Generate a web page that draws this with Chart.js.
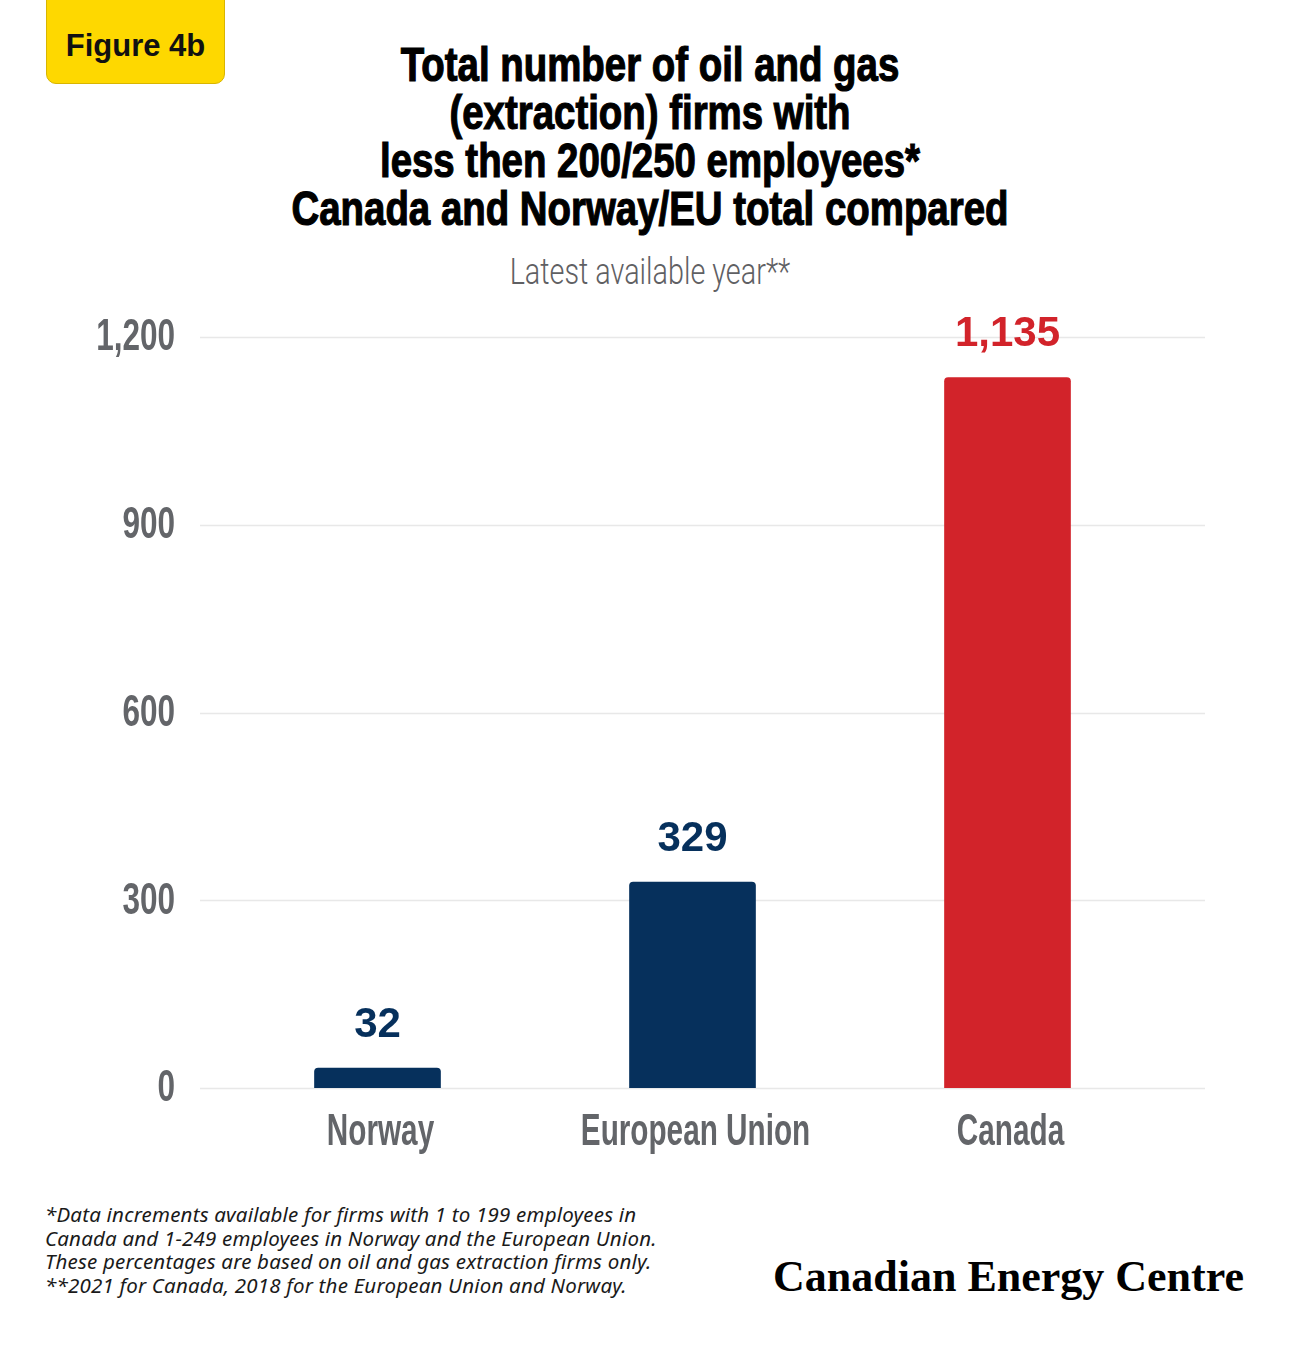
<!DOCTYPE html>
<html>
<head>
<meta charset="utf-8">
<script src="https://cdn.jsdelivr.net/npm/chart.js@4"></script>
<style>
  html, body { margin: 0; padding: 0; background: #fff; }
  #page { position: relative; width: 1300px; height: 1350px; overflow: hidden; }
  #badge {
    position: absolute; left: 46px; top: -10px; width: 179px; height: 94px;
    background: #fed800; border: 1px solid #d9b500; border-radius: 0 0 10px 10px;
    box-sizing: border-box;
  }
  #badge span {
    position: absolute; left: 0; right: 0; top: 37px; text-align: center;
    font: bold 31px "Liberation Sans", Arial, sans-serif; color: #111;
  }
  .cond { display: block; transform-origin: 50% 50%; white-space: nowrap; }
  #title {
    position: absolute; left: 0; width: 1300px; top: 41px; text-align: center;
    font: bold 48px/48px "Liberation Sans", Arial, sans-serif; color: #000;
    -webkit-text-stroke: 1.2px #000;
  }
  #title .cond { transform: scaleX(0.8); }
  #subtitle {
    position: absolute; left: 0; width: 1300px; top: 252px; text-align: center;
    font: 300 36px/40px Roboto, sans-serif; color: #5f6063;
  }
  #subtitle .cond { transform: scaleX(0.8); }
  #chartBox { position: absolute; left: 0; top: 300px; width: 1300px; height: 900px; }
  #notes {
    position: absolute; left: 45px; top: 1203px;
    font: italic 20.5px/23.6px "Noto Sans", sans-serif; color: #1a1a1a;
    letter-spacing: 0.2px;
  }
  #logo {
    position: absolute; left: 773px; top: 1251px;
    font: bold 44px "Liberation Serif", serif; color: #000; white-space: nowrap;
  }
</style>
</head>
<body>
<div id="page">
  <div id="badge"><span>Figure 4b</span></div>
  <div id="title">
    <span class="cond">Total number of oil and gas</span>
    <span class="cond">(extraction) firms with</span>
    <span class="cond">less then 200/250 employees*</span>
    <span class="cond">Canada and Norway/EU total compared</span>
  </div>
  <div id="subtitle"><span class="cond">Latest available year**</span></div>
  <div id="chartBox"><canvas id="chart"></canvas></div>
  <div id="notes">
    *Data increments available for firms with 1 to 199 employees in<br>
    Canada and 1-249 employees in Norway and the European Union.<br>
    These percentages are based on oil and gas extraction firms only.<br>
    **2021 for Canada, 2018 for the European Union and Norway.
  </div>
  <div id="logo">Canadian Energy Centre</div>
</div>
<script>
// datos del gráfico
const categories = ["Norway", "European Union", "Canada"];
const firmCounts = [32, 329, 1135];
const yTicks = [0, 300, 600, 900, 1200];

// estilos
const NAVY = "#06305c";
const RED = "#d2232a";
const GREY = "#636569";
const barColors = [NAVY, NAVY, RED];
const axisFont = "bold 45px 'Liberation Sans', Arial, sans-serif";
// no hay fuente condensada instalada: se comprime el texto a mano
const SQUEEZE_Y = 0.7;
const SQUEEZE_X = 0.66;

function squeezedText(ctx, text, x, y, align, squeeze) {
  ctx.save();
  ctx.translate(x, y);
  ctx.scale(squeeze, 1);
  ctx.textAlign = align;
  ctx.fillText(text, 0, 0);
  ctx.restore();
}

// líneas de la cuadrícula algo más anchas que el área de las barras
const gridPlugin = {
  id: "wideGrid",
  beforeDatasetsDraw(chart) {
    const { ctx, scales: { y } } = chart;
    ctx.save();
    ctx.strokeStyle = "#e8e8e8";
    ctx.lineWidth = 1.5;
    y.ticks.forEach(t => {
      const py = Math.round(y.getPixelForValue(t.value)) + 0.5;
      ctx.beginPath();
      ctx.moveTo(200, py);
      ctx.lineTo(1205, py);
      ctx.stroke();
    });
    ctx.restore();
  }
};

// etiquetas de los ejes, colocadas con las escalas de Chart.js
const axisLabels = {
  id: "axisLabels",
  afterDraw(chart) {
    const { ctx, chartArea, scales: { x, y } } = chart;
    ctx.save();
    ctx.fillStyle = GREY;
    ctx.font = axisFont;
    ctx.textBaseline = "middle";
    y.ticks.forEach(t => {
      squeezedText(ctx, t.value.toLocaleString("en-US"), chartArea.left - 45,
        y.getPixelForValue(t.value) + 1, "right", SQUEEZE_Y);
    });
    categories.forEach((c, i) => {
      squeezedText(ctx, c, x.getPixelForTick(i) + 3, chartArea.bottom + 45, "center", SQUEEZE_X);
    });
    ctx.restore();
  }
};

// etiquetas de valor encima de cada barra
const valueLabels = {
  id: "valueLabels",
  afterDatasetsDraw(chart) {
    const { ctx } = chart;
    const meta = chart.getDatasetMeta(0);
    ctx.save();
    ctx.font = "bold 42px 'Liberation Sans', Arial, sans-serif";
    ctx.textAlign = "center";
    ctx.textBaseline = "bottom";
    meta.data.forEach((bar, i) => {
      ctx.fillStyle = barColors[i];
      ctx.fillText(firmCounts[i].toLocaleString("en-US"), bar.x, bar.y - 22);
    });
    ctx.restore();
  }
};

new Chart(document.getElementById("chart"), {
  type: "bar",
  data: {
    labels: categories,
    datasets: [{
      data: firmCounts,
      backgroundColor: barColors,
      borderRadius: { topLeft: 4, topRight: 4 },
      borderSkipped: "bottom",
      barThickness: 126
    }]
  },
  options: {
    responsive: true,
    maintainAspectRatio: false,
    animation: false,
    layout: { padding: { top: 37, right: 135, bottom: 0, left: 0 } },
    plugins: { legend: { display: false }, tooltip: { enabled: false } },
    scales: {
      x: {
        grid: { display: false, drawTicks: false },
        border: { display: false },
        ticks: { display: false },
        afterFit(scale) { scale.height = 112; }
      },
      y: {
        min: 0,
        max: 1200,
        afterBuildTicks(scale) { scale.ticks = yTicks.map(v => ({ value: v })); },
        grid: { display: false, drawTicks: false },
        border: { display: false },
        ticks: { display: false },
        afterFit(scale) { scale.width = 220; }
      }
    }
  },
  plugins: [gridPlugin, valueLabels, axisLabels]
});
</script>
</body>
</html>
